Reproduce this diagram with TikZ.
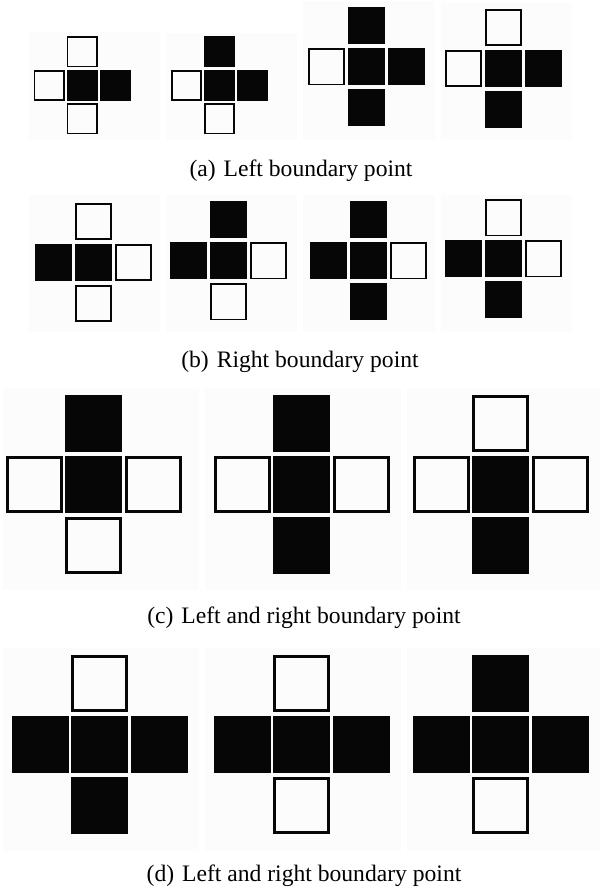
\documentclass[tikz,border=0pt]{standalone}
\usepackage{fontspec}
\setmainfont{Liberation Serif}
\definecolor{ink}{HTML}{060606}
\definecolor{panelbg}{HTML}{FCFCFC}
\newcommand{\csz}{15.5pt}
\newcommand{\hlw}{0.85pt}
\newcommand{\sxx}{33}
\newcommand{\syy}{33.5}
\newcommand{\plusfig}[7]{%
  \node[#4cell] (#1t) at (#2,#3-\syy) {};
  \node[#5cell] (#1l) at (#2-\sxx,#3) {};
  \node[fcell]  (#1c) at (#2,#3) {};
  \node[#6cell] (#1r) at (#2+\sxx,#3) {};
  \node[#7cell] (#1b) at (#2,#3+\syy) {};
}
\tikzset{
  fcell/.style={fill=ink, draw=none, minimum size=\csz, inner sep=0pt, outer sep=0pt},
  hcell/.style={fill=panelbg, draw=ink, line width=\hlw, minimum size=\csz-\hlw, inner sep=0pt, outer sep=0pt},
  panel/.style={fill=panelbg},
  capt/.style={anchor=base, inner sep=0pt, font=\fontsize{11.8}{14}\selectfont}
}
\begin{document}
\begin{tikzpicture}[x=0.5pt,y=-0.5pt]
\useasboundingbox[fill=white] (0,0) rectangle (601,892);
% row (a)
\fill[panel] (29,32) rectangle (160,140);
\fill[panel] (166,33) rectangle (297,140);
\fill[panel] (303,1) rectangle (435,140);
\fill[panel] (441,3) rectangle (572,140);
\renewcommand{\csz}{15.5pt}\renewcommand{\sxx}{33}\renewcommand{\syy}{33.5}
\plusfig{a1}{82}{85.5}{h}{h}{f}{h}
\plusfig{a2}{219.5}{85.5}{f}{h}{f}{h}
\renewcommand{\csz}{18.5pt}\renewcommand{\sxx}{40}\renewcommand{\syy}{41}
\plusfig{a3}{366.5}{67}{f}{h}{f}{f}
\plusfig{a4}{503.5}{68.5}{h}{h}{f}{f}
\node[capt] (capa) at (301,177) {(a)\hspace{4pt}Left boundary point};
% row (b)
\fill[panel] (29,195) rectangle (160,332);
\fill[panel] (166,195) rectangle (297,332);
\fill[panel] (303,195) rectangle (435,332);
\fill[panel] (441,195) rectangle (572,332);
\plusfig{b1}{93.5}{262.5}{h}{f}{h}{h}
\plusfig{b2}{228.5}{261}{f}{f}{h}{h}
\plusfig{b3}{368.5}{261}{f}{f}{h}{f}
\plusfig{b4}{503.5}{259}{h}{f}{h}{f}
\node[capt] (capb) at (300,367.5) {(b)\hspace{4pt}Right boundary point};
% row (c)
\fill[panel] (3,388) rectangle (199,590);
\fill[panel] (205,388) rectangle (401,590);
\fill[panel] (407,388) rectangle (600,590);
\renewcommand{\csz}{28.5pt}\renewcommand{\hlw}{1.5pt}\renewcommand{\sxx}{59.5}\renewcommand{\syy}{61}
\plusfig{c1}{93.5}{484.5}{f}{h}{h}{h}
\plusfig{c2}{301.5}{484.5}{f}{h}{h}{f}
\plusfig{c3}{500.5}{484.5}{h}{h}{h}{f}
\node[capt] (capc) at (304,623.5) {(c)\hspace{4pt}Left and right boundary point};
% row (d)
\fill[panel] (3,648) rectangle (199,851);
\fill[panel] (205,648) rectangle (401,851);
\fill[panel] (407,648) rectangle (600,851);
\plusfig{d1}{99.5}{744}{h}{f}{f}{f}
\plusfig{d2}{301.5}{744}{h}{f}{f}{h}
\plusfig{d3}{500.5}{744}{f}{f}{f}{h}
\node[capt] (capd) at (304,881) {(d)\hspace{4pt}Left and right boundary point};
\end{tikzpicture}
\end{document}
